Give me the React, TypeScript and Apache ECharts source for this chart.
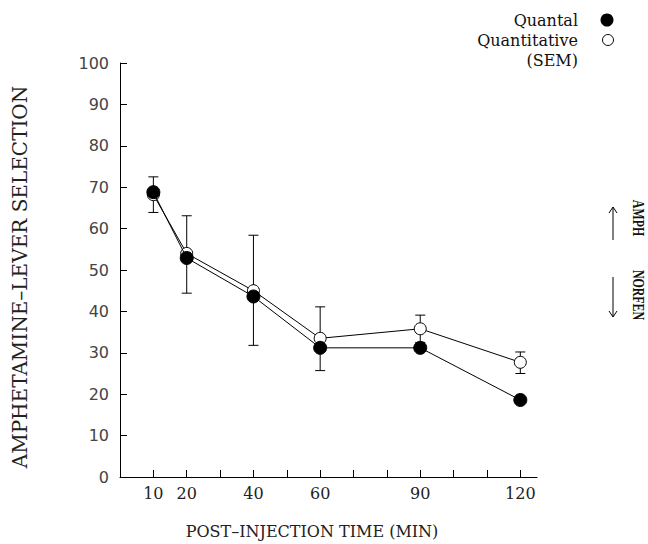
import React, { useEffect, useRef } from "react";
import * as echarts from "echarts";

const timePoints = [10, 20, 40, 60, 90, 120];
const quantal = [68.8, 52.9, 43.6, 31.2, 31.2, 18.6];
const quantitative = [68.2, 54.0, 45.0, 33.5, 35.8, 27.7];
const semLow = [63.9, 44.4, 31.8, 25.7, 32.5, 25.0];
const semHigh = [72.5, 63.1, 58.4, 41.1, 39.1, 30.2];
const xTickValues = [10, 20, 30, 40, 50, 60, 70, 80, 90, 100, 110, 120];
const xLabelValues = [10, 20, 40, 60, 90, 120];

const SERIF = "'DejaVu Serif', 'Liberation Serif', serif";
const SANS = "'DejaVu Sans', 'Liberation Sans', sans-serif";

export default function App() {
  const ref = useRef<HTMLDivElement>(null);
  useEffect(() => {
    if (!ref.current) return;
    const chart = echarts.init(ref.current, undefined, { renderer: "svg" });
    const qData = timePoints.map((t, i) => [t, quantal[i]]);
    const qtData = timePoints.map((t, i) => [t, quantitative[i]]);
    const errData = timePoints.map((t, i) => [t, semLow[i], semHigh[i]]);

    const option: any = {
      animation: false,
      backgroundColor: "#fff",
      grid: { left: 120, right: 111, top: 63, bottom: 67 },
      xAxis: {
        type: "value",
        min: 0,
        max: 125,
        interval: 10,
        splitLine: { show: false },
        axisLine: { lineStyle: { color: "#000", width: 1 } },
        axisTick: {
          inside: true,
          length: 7,
          customValues: xTickValues,
          lineStyle: { color: "#000" },
        },
        axisLabel: {
          customValues: xLabelValues,
          margin: 8,
          fontFamily: SERIF,
          fontSize: 16,
          color: "#222",
        },
      },
      yAxis: {
        type: "value",
        min: 0,
        max: 100,
        interval: 10,
        splitLine: { show: false },
        axisLine: { show: true, lineStyle: { color: "#000", width: 1 } },
        axisTick: { show: true, inside: true, length: 7, lineStyle: { color: "#000" } },
        axisLabel: { margin: 11, fontFamily: SANS, fontSize: 16, color: "#444" },
      },
      series: [
        {
          type: "custom",
          name: "SEM",
          data: errData,
          encode: { x: 0, y: [1, 2] },
          z: 1,
          renderItem: (params: any, api: any) => {
            const x = api.value(0);
            const lo = api.coord([x, api.value(1)]);
            const hi = api.coord([x, api.value(2)]);
            const w = 5;
            const st = { stroke: "#000", lineWidth: 1 };
            return {
              type: "group",
              children: [
                { type: "line", shape: { x1: lo[0], y1: lo[1], x2: hi[0], y2: hi[1] }, style: st },
                { type: "line", shape: { x1: lo[0] - w, y1: lo[1], x2: lo[0] + w, y2: lo[1] }, style: st },
                { type: "line", shape: { x1: hi[0] - w, y1: hi[1], x2: hi[0] + w, y2: hi[1] }, style: st },
              ],
            };
          },
        },
        {
          type: "line",
          name: "Quantitative",
          data: qtData,
          z: 2,
          symbol: "circle",
          symbolSize: 12,
          lineStyle: { color: "#000", width: 1 },
          itemStyle: { color: "#fff", borderColor: "#000", borderWidth: 1 },
        },
        {
          type: "line",
          name: "Quantal",
          data: qData,
          z: 3,
          symbol: "circle",
          symbolSize: 13,
          lineStyle: { color: "#000", width: 1 },
          itemStyle: { color: "#000", borderColor: "#000", borderWidth: 1 },
        },
      ],
      graphic: [
        {
          type: "text",
          x: 578,
          y: 20,
          style: { text: "Quantal", fontFamily: SERIF, fontSize: 16, fill: "#111", align: "right", verticalAlign: "middle" },
        },
        {
          type: "text",
          x: 578,
          y: 40,
          style: { text: "Quantitative", fontFamily: SERIF, fontSize: 16, fill: "#111", align: "right", verticalAlign: "middle" },
        },
        {
          type: "text",
          x: 578,
          y: 60,
          style: { text: "(SEM)", fontFamily: SERIF, fontSize: 16, fill: "#111", align: "right", verticalAlign: "middle" },
        },
        { type: "circle", shape: { cx: 607, cy: 20, r: 6.5 }, style: { fill: "#000" } },
        { type: "circle", shape: { cx: 608, cy: 40, r: 5.5 }, style: { fill: "#fff", stroke: "#000", lineWidth: 1 } },
        {
          type: "text",
          x: 20,
          y: 277,
          rotation: Math.PI / 2,
          style: {
            text: "AMPHETAMINE\u2013LEVER SELECTION",
            fontFamily: SERIF,
            fontSize: 20,
            fill: "#222",
            align: "center",
            verticalAlign: "middle",
          },
        },
        {
          type: "text",
          x: 312,
          y: 531,
          style: {
            text: "POST\u2013INJECTION TIME (MIN)",
            fontFamily: SERIF,
            fontSize: 16,
            fill: "#222",
            align: "center",
            verticalAlign: "middle",
          },
        },
        {
          type: "text",
          x: 639,
          y: 218,
          rotation: -Math.PI / 2,
          scaleX: 0.7,
          style: {
            text: "AMPH",
            fontFamily: "'Liberation Serif', serif",
            fontWeight: "bold",
            fontSize: 17,
            fill: "#111",
            align: "center",
            verticalAlign: "middle",
          },
        },
        {
          type: "text",
          x: 639,
          y: 295,
          rotation: -Math.PI / 2,
          scaleX: 0.7,
          style: {
            text: "NORFEN",
            fontFamily: "'Liberation Serif', serif",
            fontWeight: "bold",
            fontSize: 17,
            fill: "#111",
            align: "center",
            verticalAlign: "middle",
          },
        },
        { type: "line", shape: { x1: 613, y1: 240, x2: 613, y2: 207 }, style: { stroke: "#000", lineWidth: 1 } },
        {
          type: "polyline",
          shape: { points: [[609, 213], [613, 207], [617, 213]] },
          style: { stroke: "#000", lineWidth: 1, fill: null },
        },
        { type: "line", shape: { x1: 613, y1: 277, x2: 613, y2: 317 }, style: { stroke: "#000", lineWidth: 1 } },
        {
          type: "polyline",
          shape: { points: [[609, 311], [613, 317], [617, 311]] },
          style: { stroke: "#000", lineWidth: 1, fill: null },
        },
      ],
    };
    chart.setOption(option);
    return () => chart.dispose();
  }, []);
  return <div ref={ref} style={{ position: "absolute", left: 0, top: 0, width: 648, height: 544 }} />;
}
